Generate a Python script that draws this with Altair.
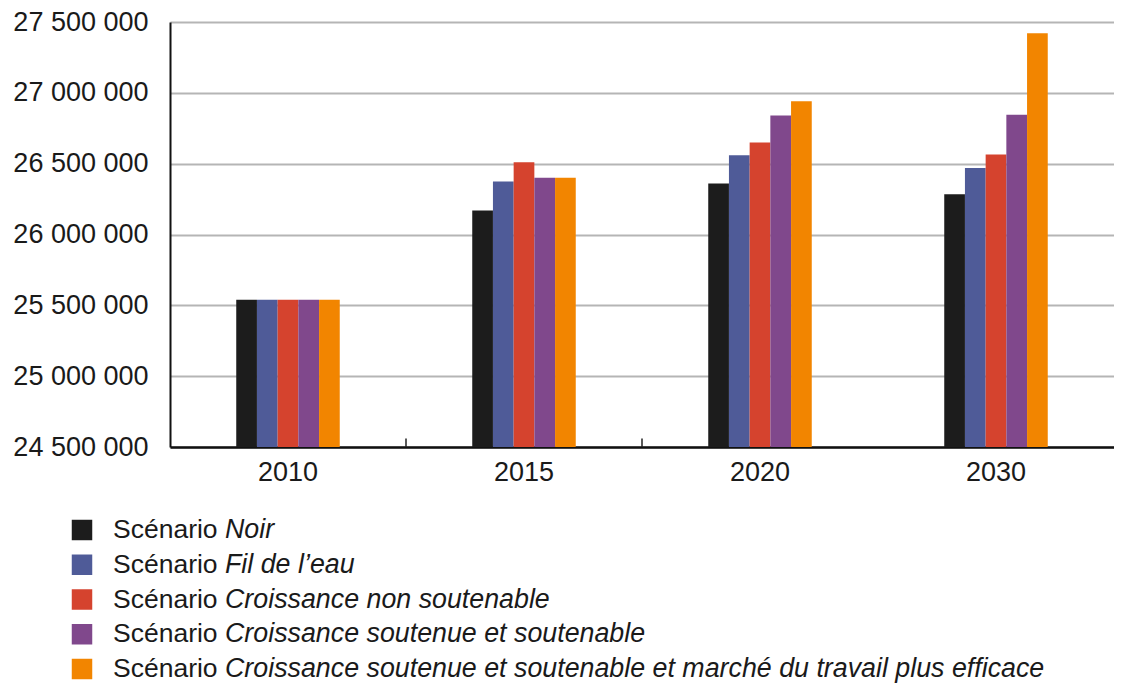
import altair as alt
import pandas as pd

years = ["2010", "2015", "2020", "2030"]
scenarios = ["Noir", "Fil de l’eau", "Croissance non soutenable",
             "Croissance soutenue et soutenable",
             "Croissance soutenue et soutenable et marché du travail plus efficace"]
colors = ["#1c1c1c", "#4f5b98", "#d5432e", "#80488c", "#f28500"]

noir = [25540000, 26170000, 26360000, 26285000]
fil_eau = [25540000, 26375000, 26560000, 26470000]
non_soutenable = [25540000, 26510000, 26650000, 26565000]
soutenue = [25540000, 26400000, 26840000, 26845000]
marche_travail = [25540000, 26400000, 26940000, 27420000]
series = [noir, fil_eau, non_soutenable, soutenue, marche_travail]

y_ticks = [24500000, 25000000, 25500000, 26000000, 26500000, 27000000, 27500000]
tick_years = ["2015", "2020"]
# empty slots around each group of bars (gap between groups)
gap_left = ["_a", "_b", "_c"]
gap_right = ["_x", "_y", "_z"]

rows = []
for s, vals in zip(scenarios, series):
    for y, v in zip(years, vals):
        rows.append({"year": y, "scenario": s, "value": v})
df = pd.DataFrame(rows)

FONT = "Liberation Sans"
color_scale = alt.Scale(domain=scenarios, range=colors)
x_scale = alt.Scale(domain=years, paddingInner=0, paddingOuter=0)
y_scale = alt.Scale(domain=[24500000, 27500000], zero=False, nice=False)

bars = alt.Chart(df).mark_bar().encode(
    x=alt.X("year:N", scale=x_scale, title=None,
            axis=alt.Axis(labelAngle=0, labelFontSize=27, labelFont=FONT,
                          labelColor="#1a1a1a", ticks=False, labelPadding=12,
                          domainColor="#111111", domainWidth=2.5, grid=False)),
    xOffset=alt.XOffset("scenario:N",
                        scale=alt.Scale(domain=gap_left + scenarios + gap_right,
                                        paddingInner=0, paddingOuter=0.2)),
    y=alt.Y("value:Q", scale=y_scale, title=None,
            axis=alt.Axis(values=y_ticks, labelFontSize=27, labelFont=FONT,
                          labelColor="#1a1a1a", ticks=False, labelPadding=22,
                          domainColor="#111111", domainWidth=2,
                          gridColor="#b5b5b5", gridWidth=2,
                          labelExpr="replace(format(datum.value, ','), regexp(',', 'g'), ' ')")),
    y2=alt.datum(24500000),
    color=alt.Color("scenario:N", scale=color_scale, legend=None),
)

ticks = alt.Chart(pd.DataFrame({"year": tick_years})).mark_rule(
    color="#222222", strokeWidth=1.5
).encode(
    x=alt.X("year:N", scale=x_scale, bandPosition=0),
    y=alt.datum(24500000),
    y2=alt.datum(24560000),
)

main = alt.layer(bars, ticks).properties(width=944, height=425)

ldf = pd.DataFrame({
    "scenario": scenarios,
    "prefix": ["Scénario"] * len(scenarios),
})
ly = alt.Y("scenario:N", sort=scenarios, axis=None,
           scale=alt.Scale(type="point", padding=0))

sq = alt.Chart(ldf).mark_square(size=420, opacity=1).encode(
    x=alt.value(-88),
    y=ly,
    color=alt.Color("scenario:N", scale=color_scale, legend=None),
)
t1 = alt.Chart(ldf).mark_text(align="left", baseline="middle", fontSize=26.5,
                              font=FONT, color="#1a1a1a").encode(
    x=alt.value(-57), y=ly, text="prefix:N")
t2 = alt.Chart(ldf).mark_text(align="left", baseline="middle", fontSize=26.8,
                              font=FONT, fontStyle="italic", color="#1a1a1a").encode(
    x=alt.value(55), y=ly, text="scenario:N")

legend = alt.layer(sq, t1, t2).properties(width=800, height=139)

chart = alt.vconcat(main, legend, spacing=32).properties(
    padding={"left": 4, "top": 0, "right": 0, "bottom": 0}
).configure_view(stroke=None)

chart.save("out.html", embed_options={"renderer": "svg", "actions": False})
